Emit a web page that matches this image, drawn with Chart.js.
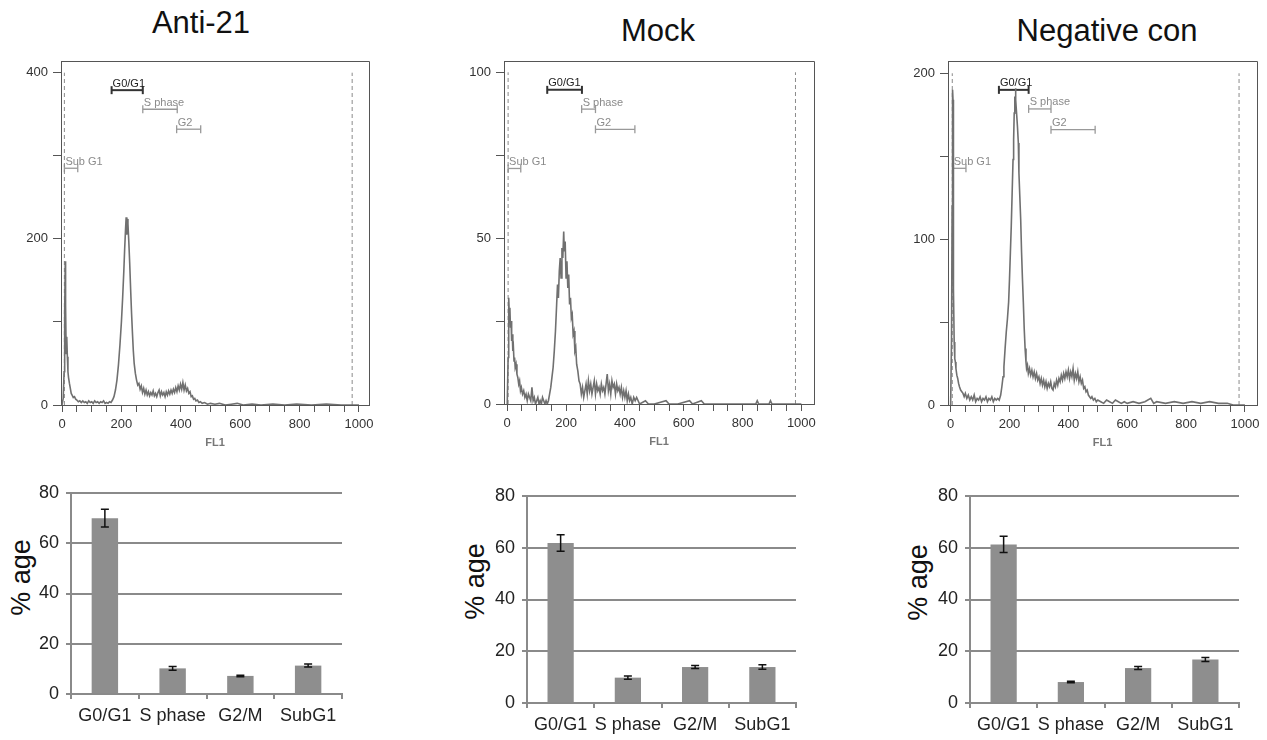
<!DOCTYPE html>
<html>
<head>
<meta charset="utf-8">
<script src="https://cdn.jsdelivr.net/npm/chart.js@4.4.1/dist/chart.umd.min.js"></script>
<style>
    body { margin: 0; width: 1267px; height: 740px; overflow: hidden; background: #fff; position: relative;
           font-family: "Liberation Sans", Arial, sans-serif; }
    canvas { position: absolute; }
    .title { position: absolute; font-size: 31px; line-height: 31px; color: #111; white-space: nowrap; transform: translateX(-50%); }
    .ylab { position: absolute; width: 120px; height: 27px; text-align: center; font-size: 27px; line-height: 27px; color: #111; transform: rotate(-90deg); }
</style>
</head>
<body>
<div class="title" style="left:201px;top:7px">Anti-21</div>
<div class="title" style="left:658px;top:15px">Mock</div>
<div class="title" style="left:1107px;top:15px">Negative con</div>

<div class="ylab" style="left:-39px;top:564px">% age</div>
<div class="ylab" style="left:415px;top:568px">% age</div>
<div class="ylab" style="left:858px;top:569px">% age</div>

<canvas id="histAnti"></canvas>
<canvas id="histMock"></canvas>
<canvas id="histNeg"></canvas>
<canvas id="barAnti"></canvas>
<canvas id="barMock"></canvas>
<canvas id="barNeg"></canvas>

<script>
// ---------- Data ----------
const histXTicks = [0, 50, 100, 150, 200, 250, 300, 350, 400, 450, 500, 550, 600, 650, 700, 750, 800, 850, 900, 950, 1000];
const gateNames = ["G0/G1", "S phase", "G2", "Sub G1"];

// Anti-21 histogram (FL1 channel, count)
const antiChannels = [0, 4, 7, 9, 11, 12, 14, 16, 18, 20, 22, 25, 28, 31, 34, 38, 42, 46, 50, 55, 60, 65, 70, 75, 80, 85, 90, 95, 100,
    105, 110, 115, 120, 125, 130, 135, 140, 145, 150, 155, 160, 165, 170, 175, 180, 185, 190, 195, 200, 204, 208, 211, 214, 216,
    218, 220, 222, 225, 228, 231, 234, 237, 240, 243, 247, 251, 255, 259, 263, 267, 271, 275, 279, 283, 287, 291, 295, 299, 303,
    307, 311, 315, 319, 323, 327, 331, 335, 339, 343, 347, 351, 355, 359, 363, 367, 371, 375, 379, 383, 387, 391, 395, 399, 403,
    407, 411, 415, 419, 423, 427, 431, 435, 439, 443, 447, 451, 456, 461, 466, 472, 480, 490, 500, 515, 530, 550, 570, 590, 610,
    640, 670, 710, 750, 790, 840, 890, 940, 1000];
const antiCounts = [0, 8, 40, 110, 173, 120, 62, 82, 58, 40, 33, 26, 20, 14, 12, 9, 10, 7, 6, 4, 5, 3, 5, 3, 4, 2, 5, 3, 4,
    2, 5, 3, 4, 2, 4, 3, 5, 2, 3, 2, 4, 3, 6, 10, 18, 30, 48, 72, 100, 128, 160, 188, 212, 226,
    205, 224, 218, 196, 170, 140, 112, 88, 66, 50, 38, 30, 24, 26, 19, 23, 15, 20, 13, 18, 12, 16, 11, 15, 12,
    17, 11, 14, 10, 15, 18, 11, 16, 12, 15, 10, 16, 12, 17, 13, 18, 14, 19, 15, 21, 16, 23, 18, 25, 19,
    27, 18, 24, 17, 20, 14, 16, 10, 11, 7, 8, 5, 6, 3, 4, 2, 3, 1, 2, 1, 2, 0, 1, 2, 0,
    1, 0, 1, 0, 1, 0, 1, 0, 0];
const antiYTicks = [0, 100, 200, 300, 400];
const antiGateStart = [167, 272, 386, 8];
const antiGateEnd = [272, 388, 467, 53];
const antiGateLevel = [379, 356, 332, 285];
const antiDashes = [8, 977];

// Mock histogram
const mockChannels = [0, 3, 5, 7, 9, 11, 13, 15, 17, 19, 21, 23, 25, 27, 30, 33, 36, 39, 42, 45, 48, 52, 56, 60, 64, 68, 72, 76, 80,
    84, 88, 92, 96, 100, 104, 108, 112, 116, 120, 124, 128, 132, 136, 140, 144, 148, 152, 156, 160, 164, 168, 171, 174, 177,
    180, 183, 186, 189, 192, 194, 197, 200, 203, 206, 209, 212, 215, 218, 221, 224, 227, 230, 233, 236, 240, 244, 248, 252,
    256, 260, 264, 268, 272, 276, 280, 284, 288, 292, 296, 300, 304, 308, 312, 316, 320, 324, 328, 332, 336, 340, 344, 348,
    352, 356, 360, 364, 368, 372, 376, 380, 384, 388, 392, 396, 400, 404, 408, 412, 416, 420, 425, 430, 435, 440, 450, 470,
    480, 500, 540, 550, 580, 620, 630, 660, 670, 845, 850, 855, 890, 895, 900, 1000];
const mockCounts = [0, 14, 32, 27, 29, 23, 25, 19, 21, 16, 17, 13, 14, 11, 12, 9, 8, 6, 7, 4, 5, 3, 4, 2, 3, 1, 3, 2, 1,
    5, 1, 2, 0, 1, 2, 0, 1, 0, 2, 1, 0, 1, 0, 1, 3, 5, 8, 11, 16, 22, 30, 36, 32, 40,
    44, 38, 47, 44, 52, 46, 49, 38, 43, 35, 39, 30, 32, 26, 27, 21, 22, 16, 17, 12, 10, 7, 6, 3,
    5, 2, 4, 6, 3, 7, 4, 6, 3, 5, 7, 3, 6, 4, 5, 3, 6, 4, 5, 3, 6, 9, 4, 6,
    3, 7, 5, 6, 3, 6, 4, 5, 3, 5, 2, 4, 2, 4, 1, 3, 1, 2, 0, 2, 1, 2, 0, 1,
    0, 0, 1, 0, 0, 1, 0, 1, 0, 0, 1, 0, 0, 1, 0, 0];
const mockYTicks = [0, 25, 50, 75, 100];
const mockGateStart = [136, 253, 300, 3];
const mockGateEnd = [254, 300, 434, 46];
const mockGateLevel = [94.7, 88.9, 82.8, 71];
const mockDashes = [3, 980];

// Negative con histogram
const negChannels = [0, 3, 5, 6, 7, 8, 9, 10, 12, 14, 16, 18, 21, 24, 27, 30, 34, 38, 42, 46, 50, 55, 60, 65, 70, 75, 80, 85, 90,
    95, 100, 105, 110, 115, 120, 125, 130, 135, 140, 145, 150, 155, 160, 165, 170, 174, 178, 181, 185, 189, 193, 197, 200,
    203, 206, 209, 212, 214, 216, 218, 219, 220, 222, 224, 227, 230, 232, 235, 238, 241, 244, 247, 250, 253, 256, 258, 261,
    264, 268, 272, 276, 280, 284, 288, 292, 296, 300, 304, 308, 312, 316, 320, 324, 328, 332, 336, 340, 344, 348, 352, 356,
    360, 364, 368, 372, 376, 380, 384, 388, 392, 396, 400, 404, 408, 412, 416, 420, 424, 428, 432, 436, 440, 444, 448, 452,
    456, 460, 464, 468, 472, 476, 480, 485, 490, 495, 500, 510, 520, 530, 540, 550, 560, 570, 580, 590, 600, 620, 640, 660,
    680, 690, 700, 730, 760, 790, 820, 850, 880, 910, 940, 960, 1000];
const negCounts = [0, 40, 120, 175, 190, 184, 130, 70, 38, 28, 26, 22, 18, 16, 13, 11, 9, 8, 7, 5, 7, 4, 6, 3, 5, 3, 6, 2, 4,
    3, 5, 2, 4, 3, 5, 2, 4, 3, 5, 2, 4, 3, 4, 3, 6, 11, 17, 23, 34, 44, 52, 62, 76,
    92, 108, 128, 148, 160, 176, 186, 180, 191, 184, 176, 168, 158, 140, 126, 112, 92, 76, 62, 46, 34, 26, 22, 24,
    19, 22, 18, 21, 17, 20, 16, 19, 15, 17, 13, 16, 12, 15, 11, 14, 10, 13, 11, 14, 10, 9, 13, 11,
    15, 12, 16, 14, 18, 15, 19, 16, 20, 17, 21, 16, 20, 17, 22, 15, 19, 16, 20, 14, 17, 13, 15, 10,
    11, 8, 9, 6, 5, 4, 5, 3, 4, 2, 3, 2, 1, 3, 2, 1, 3, 2, 1, 2, 1, 2, 1, 2,
    4, 1, 2, 1, 2, 1, 2, 1, 2, 1, 1, 0, 0];
const negYTicks = [0, 50, 100, 150, 200];
const negGateStart = [164, 265, 341, 7];
const negGateEnd = [265, 341, 491, 52];
const negGateLevel = [190, 178.5, 166, 142.7];
const negDashes = [5.5, 980];

// Bar charts (% of cells per phase, with error)
const phaseLabels = ["G0/G1", "S phase", "G2/M", "SubG1"];
const pctTicks = [0, 20, 40, 60, 80];
const antiPct = [70.0, 10.2, 7.2, 11.3];
const antiErr = [3.5, 0.7, 0.3, 0.6];
const mockPct = [61.8, 9.8, 13.9, 13.9];
const mockErr = [3.2, 0.6, 0.6, 0.9];
const negPct = [61.3, 8.1, 13.5, 16.8];
const negErr = [3.1, 0.3, 0.6, 0.8];

// ---------- Helpers ----------
Chart.defaults.font.family = '"Liberation Sans", Arial, sans-serif';

function place(id, left, top, width, height) {
    const c = document.getElementById(id);
    c.width = width;
    c.height = height;
    c.style.left = left + "px";
    c.style.top = top + "px";
    return c;
}

const framePlugin = {
    id: "frame",
    afterDatasetsDraw(chart) {
        const { ctx, chartArea: a } = chart;
        ctx.save();
        ctx.strokeStyle = "#555";
        ctx.lineWidth = 1;
        ctx.beginPath();
        ctx.moveTo(a.left, a.top + 0.5);
        ctx.lineTo(a.right + 0.5, a.top + 0.5);
        ctx.lineTo(a.right + 0.5, a.bottom);
        ctx.stroke();
        ctx.restore();
    }
};

const gateLabelPlugin = {
    id: "gateLabels",
    afterDatasetsDraw(chart, args, opts) {
        const { ctx, scales: { x, y } } = chart;
        ctx.save();
        ctx.font = '11px "Liberation Sans", Arial, sans-serif';
        ctx.textBaseline = "bottom";
        opts.starts.forEach((s, i) => {
            ctx.fillStyle = i === 0 ? "#222" : "#8a8a8a";
            ctx.fillText(gateNames[i], x.getPixelForValue(s) + 1, y.getPixelForValue(opts.levels[i]) - 1);
        });
        ctx.restore();
    }
};

const errorBarPlugin = {
    id: "errorBars",
    afterDatasetsDraw(chart, args, opts) {
        const { ctx, scales: { y } } = chart;
        const values = chart.data.datasets[0].data;
        ctx.save();
        ctx.strokeStyle = "#111";
        ctx.lineWidth = 1.5;
        chart.getDatasetMeta(0).data.forEach((bar, i) => {
            const top = y.getPixelForValue(values[i] + opts.errors[i]);
            const bot = y.getPixelForValue(values[i] - opts.errors[i]);
            ctx.beginPath();
            ctx.moveTo(bar.x, top); ctx.lineTo(bar.x, bot);
            ctx.moveTo(bar.x - 4, top); ctx.lineTo(bar.x + 4, top);
            ctx.moveTo(bar.x - 4, bot); ctx.lineTo(bar.x + 4, bot);
            ctx.stroke();
        });
        ctx.restore();
    }
};

function makeHistogram(canvas, padRight, xRange, yMax, yTicks, channels, counts, gStart, gEnd, gLevel, dashes) {
    const datasets = [{
        data: channels.map((c, i) => ({ x: c, y: counts[i] })),
        borderColor: "#707070",
        borderWidth: 1.6,
        pointRadius: 0,
        tension: 0
    }];
    const yTop = yTicks[yTicks.length - 1];
    dashes.forEach(v => datasets.push({
        data: [{ x: v, y: 0 }, { x: v, y: yTop }],
        borderColor: "#8a8a8a",
        borderWidth: 1,
        borderDash: [4, 3],
        pointRadius: 0
    }));
    gStart.forEach((s, i) => {
        const col = i === 0 ? "#333" : "#999";
        const w = i === 0 ? 2 : 1.3;
        datasets.push({
            data: [{ x: s, y: gLevel[i] }, { x: gEnd[i], y: gLevel[i] }],
            borderColor: col,
            borderWidth: w,
            pointStyle: "line",
            rotation: 90,
            pointRadius: 4,
            pointBorderColor: col,
            pointBorderWidth: w
        });
    });

    return new Chart(canvas, {
        type: "line",
        data: { datasets },
        options: {
            responsive: false,
            animation: false,
            events: [],
            layout: { padding: { top: 14, right: padRight } },
            plugins: {
                legend: { display: false },
                tooltip: { enabled: false },
                gateLabels: { starts: gStart, levels: gLevel }
            },
            scales: {
                x: {
                    type: "linear",
                    min: xRange[0],
                    max: xRange[1],
                    afterBuildTicks: s => { s.ticks = histXTicks.map(v => ({ value: v })); },
                    afterFit: s => { s.height = 45; },
                    grid: { drawOnChartArea: false, tickLength: 7, color: "#555" },
                    border: { color: "#555" },
                    ticks: {
                        autoSkip: false, maxRotation: 0, padding: 5, color: "#333",
                        font: { size: 13 },
                        callback: v => (v % 200 === 0 ? v : "")
                    },
                    title: { display: true, text: "FL1", color: "#777", padding: 0, font: { size: 11, weight: "bold" } }
                },
                y: {
                    min: 0,
                    max: yMax,
                    afterBuildTicks: s => { s.ticks = yTicks.map(v => ({ value: v })); },
                    afterFit: s => { s.width = 40; },
                    grid: { drawOnChartArea: false, tickLength: 8, color: "#555" },
                    border: { color: "#555" },
                    ticks: {
                        padding: 5, color: "#333", font: { size: 13 },
                        callback: v => (v % (yTop / 2) === 0 ? v : "")
                    }
                }
            }
        },
        plugins: [framePlugin, gateLabelPlugin]
    });
}

function makeBars(canvas, values, errors) {
    return new Chart(canvas, {
        type: "bar",
        data: {
            labels: phaseLabels,
            datasets: [{
                data: values,
                backgroundColor: "#8e8e8e",
                barPercentage: 0.39,
                categoryPercentage: 1
            }]
        },
        options: {
            responsive: false,
            animation: false,
            events: [],
            layout: { padding: { top: 18, right: 10 } },
            plugins: {
                legend: { display: false },
                tooltip: { enabled: false },
                errorBars: { errors }
            },
            scales: {
                x: {
                    afterFit: s => { s.height = 36; },
                    grid: { offset: true, drawOnChartArea: false, tickLength: 5, color: "#8a8a8a", lineWidth: 2 },
                    border: { color: "#8a8a8a", width: 2 },
                    ticks: { padding: 6, color: "#222", font: { size: 18 }, maxRotation: 0, autoSkip: false }
                },
                y: {
                    min: 0,
                    max: 80,
                    afterBuildTicks: s => { s.ticks = pctTicks.map(v => ({ value: v })); },
                    afterFit: s => { s.width = 50; },
                    grid: { color: "#8a8a8a", lineWidth: 2, tickLength: 5 },
                    border: { color: "#8a8a8a", width: 2 },
                    ticks: { padding: 7, color: "#222", font: { size: 18 } }
                }
            }
        },
        plugins: [errorBarPlugin]
    });
}

// ---------- Main ----------
makeHistogram(place("histAnti", 21, 47, 360, 403), 12, [-3.4, 1033.7], 414.1, antiYTicks,
    antiChannels, antiCounts, antiGateStart, antiGateEnd, antiGateLevel, antiDashes);
makeHistogram(place("histMock", 464, 47, 362, 402), 12, [-11, 1043], 103.4, mockYTicks,
    mockChannels, mockCounts, mockGateStart, mockGateEnd, mockGateLevel, mockDashes);
makeHistogram(place("histNeg", 908, 47, 358, 403), 9, [-9, 1041], 207.4, negYTicks,
    negChannels, negCounts, negGateStart, negGateEnd, negGateLevel, negDashes);

makeBars(place("barAnti", 21, 475, 331, 255), antiPct, antiErr);
makeBars(place("barMock", 477, 478, 329, 261), mockPct, mockErr);
makeBars(place("barNeg", 920, 478, 329, 261), negPct, negErr);
</script>
</body>
</html>
